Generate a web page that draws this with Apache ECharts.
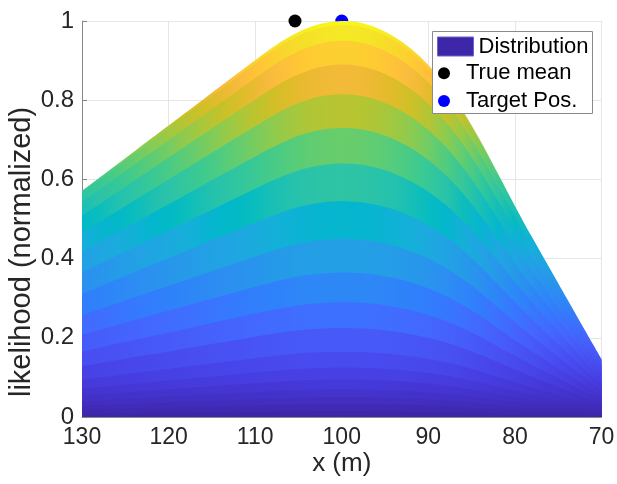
<!DOCTYPE html>
<html>
<head>
<meta charset="utf-8">
<script src="https://cdn.jsdelivr.net/npm/echarts@6/dist/echarts.min.js"></script>
<style>
html,body{margin:0;padding:0;background:#fff;}
#chart{width:617px;height:484px;}
</style>
</head>
<body>
<div id="chart"></div>
<script>
// ---- data ----
const xs = [130,128,126,124,122,120,118,116,114,112,110,108,106,104,102,100,98,96,94,92,90,88,86,84,82,80,78,76,74,72,70];
const likelihood = [0.571,0.604,0.637,0.670,0.703,0.736,0.769,0.802,0.835,0.868,0.901,0.933,0.961,0.982,0.995,1.000,0.996,0.983,0.961,0.930,0.889,0.837,0.773,0.698,0.616,0.533,0.453,0.376,0.299,0.222,0.146];
// band boundaries as fractions of the curve (top to bottom)
const levels = [1.0,0.99,0.95,0.89,0.815,0.73,0.64,0.545,0.45,0.365,0.29,0.225,0.165,0.125,0.095,0.07,0.05,0.033,0.015];
const trueMean = [[105.4, 1.0]];
const targetPos = [[100.0, 1.0]];
const xTickMin = 70, xTickMax = 130, xTickStep = 10;
const yTickMin = 0, yTickMax = 1, yTickStep = 0.2;

// parula colormap (64 entries)
const PARULA = [
[0.2422,0.1504,0.6603],[0.2504,0.1650,0.7076],[0.2578,0.1818,0.7511],[0.2647,0.1978,0.7952],
[0.2706,0.2147,0.8364],[0.2751,0.2342,0.8710],[0.2783,0.2559,0.8991],[0.2803,0.2782,0.9221],
[0.2813,0.3006,0.9414],[0.2810,0.3228,0.9579],[0.2795,0.3447,0.9717],[0.2760,0.3667,0.9829],
[0.2699,0.3892,0.9906],[0.2602,0.4123,0.9952],[0.2440,0.4358,0.9988],[0.2206,0.4603,0.9973],
[0.1963,0.4847,0.9892],[0.1834,0.5074,0.9798],[0.1786,0.5289,0.9682],[0.1764,0.5499,0.9520],
[0.1687,0.5703,0.9359],[0.1540,0.5902,0.9218],[0.1460,0.6091,0.9079],[0.1380,0.6276,0.8973],
[0.1248,0.6459,0.8883],[0.1113,0.6635,0.8763],[0.0952,0.6798,0.8598],[0.0689,0.6948,0.8394],
[0.0297,0.7082,0.8163],[0.0036,0.7203,0.7917],[0.0067,0.7312,0.7660],[0.0433,0.7411,0.7394],
[0.0964,0.7500,0.7120],[0.1408,0.7584,0.6842],[0.1717,0.7670,0.6554],[0.1938,0.7758,0.6251],
[0.2161,0.7843,0.5923],[0.2470,0.7918,0.5567],[0.2906,0.7973,0.5188],[0.3406,0.8008,0.4789],
[0.3909,0.8029,0.4354],[0.4456,0.8024,0.3909],[0.5044,0.7993,0.3480],[0.5616,0.7942,0.3045],
[0.6174,0.7876,0.2612],[0.6720,0.7793,0.2227],[0.7242,0.7698,0.1910],[0.7738,0.7598,0.1646],
[0.8203,0.7498,0.1535],[0.8634,0.7406,0.1596],[0.9035,0.7330,0.1774],[0.9393,0.7288,0.2100],
[0.9728,0.7298,0.2394],[0.9956,0.7434,0.2371],[0.9970,0.7659,0.2199],[0.9952,0.7893,0.2028],
[0.9892,0.8136,0.1885],[0.9786,0.8386,0.1766],[0.9676,0.8639,0.1643],[0.9610,0.8890,0.1537],
[0.9597,0.9135,0.1423],[0.9628,0.9373,0.1265],[0.9691,0.9606,0.1064],[0.9769,0.9839,0.0805]];
function parula(t){
  t = Math.max(0, Math.min(1, t));
  const f = t * (PARULA.length - 1);
  const i = Math.min(PARULA.length - 2, Math.floor(f));
  const u = f - i;
  const c = [0,1,2].map(j => Math.round(255 * (PARULA[i][j] * (1 - u) + PARULA[i+1][j] * u)));
  return 'rgb(' + c.join(',') + ')';
}

const xMaxData = Math.max(...xs), xMinData = Math.min(...xs);
const FONT = 'Liberation Sans';

const bandSeries = levels.map((lv, k) => {
  const next = k + 1 < levels.length ? levels[k + 1] : 0;
  const stops = xs.map((x, i) => ({
    offset: (xMaxData - x) / (xMaxData - xMinData),
    color: parula(next * likelihood[i])
  }));
  return {
    type: 'line',
    name: 'Distribution',
    data: xs.map((x, i) => [x, lv * likelihood[i]]),
    smooth: 0.35,
    symbol: 'none',
    showSymbol: false,
    silent: true,
    lineStyle: { width: 0, opacity: 0 },
    areaStyle: { opacity: 1, color: new echarts.graphic.LinearGradient(0, 0, 1, 0, stops) },
    z: 2
  };
});

const chart = echarts.init(document.getElementById('chart'), null, { renderer: 'canvas' });
chart.setOption({
  animation: false,
  backgroundColor: '#ffffff',
  grid: { left: 82, right: 15.5, top: 21, bottom: 67, containLabel: false, outerBoundsMode: 'none' },
  xAxis: {
    type: 'value', inverse: true, min: xTickMin, max: xTickMax, interval: xTickStep,
    name: 'x (m)', nameLocation: 'middle', nameGap: 34, nameMoveOverlap: false,
    nameTextStyle: { fontFamily: FONT, fontSize: 26, color: '#262626' },
    axisLine: { show: true, lineStyle: { color: '#888888', width: 1 } },
    axisTick: { show: true, inside: true, length: 5, lineStyle: { color: '#888888' } },
    axisLabel: { fontFamily: FONT, fontSize: 23, color: '#262626', margin: 9 },
    splitLine: { show: true, lineStyle: { color: '#e6e6e6', width: 1 } }
  },
  yAxis: {
    type: 'value', min: yTickMin, max: yTickMax, interval: yTickStep,
    name: 'likelihood (normalized)', nameLocation: 'middle', nameGap: 46, nameMoveOverlap: false,
    nameTextStyle: { fontFamily: FONT, fontSize: 29, color: '#262626', padding: [0, 66, 0, 0] },
    axisLine: { show: true, lineStyle: { color: '#888888', width: 1 } },
    axisTick: { show: true, inside: true, length: 5, lineStyle: { color: '#888888' } },
    axisLabel: { fontFamily: FONT, fontSize: 24, color: '#262626', margin: 8 },
    splitLine: { show: true, lineStyle: { color: '#e6e6e6', width: 1 } }
  },
  graphic: [{
    type: 'rect', z: 10, silent: true,
    shape: { x: 432.5, y: 31.5, width: 160, height: 82 },
    style: { fill: '#ffffff', stroke: '#8a8a8a', lineWidth: 1 }
  }],
  legend: [{
    data: [{ name: 'Distribution', icon: 'rect', itemStyle: { color: '#3e26a8', borderColor: '#6f62cc', borderWidth: 1 } }],
    left: 437, top: 35.5, padding: 0, itemWidth: 36, itemHeight: 19,
    selectedMode: false, z: 11,
    textStyle: { fontFamily: FONT, fontSize: 22, color: '#000000', lineHeight: 21 }
  }, {
    data: [{ name: 'True mean', icon: 'circle' }, { name: 'Target Pos.', icon: 'circle' }],
    orient: 'vertical', left: 438, top: 62.2, padding: 0, itemWidth: 34, itemHeight: 12, itemGap: 5.7,
    selectedMode: false, z: 11,
    textStyle: { fontFamily: FONT, fontSize: 22, color: '#000000', lineHeight: 21 }
  }],
  series: [
    { type: 'scatter', name: 'True mean', data: trueMean, symbol: 'circle', symbolSize: 13,
      itemStyle: { color: '#000000', opacity: 1 }, z: 1, clip: false, silent: true },
    { type: 'scatter', name: 'Target Pos.', data: targetPos, symbol: 'circle', symbolSize: 13,
      itemStyle: { color: '#0000ff', opacity: 1 }, z: 1, clip: false, silent: true }
  ].concat(bandSeries)
});
</script>
</body>
</html>
